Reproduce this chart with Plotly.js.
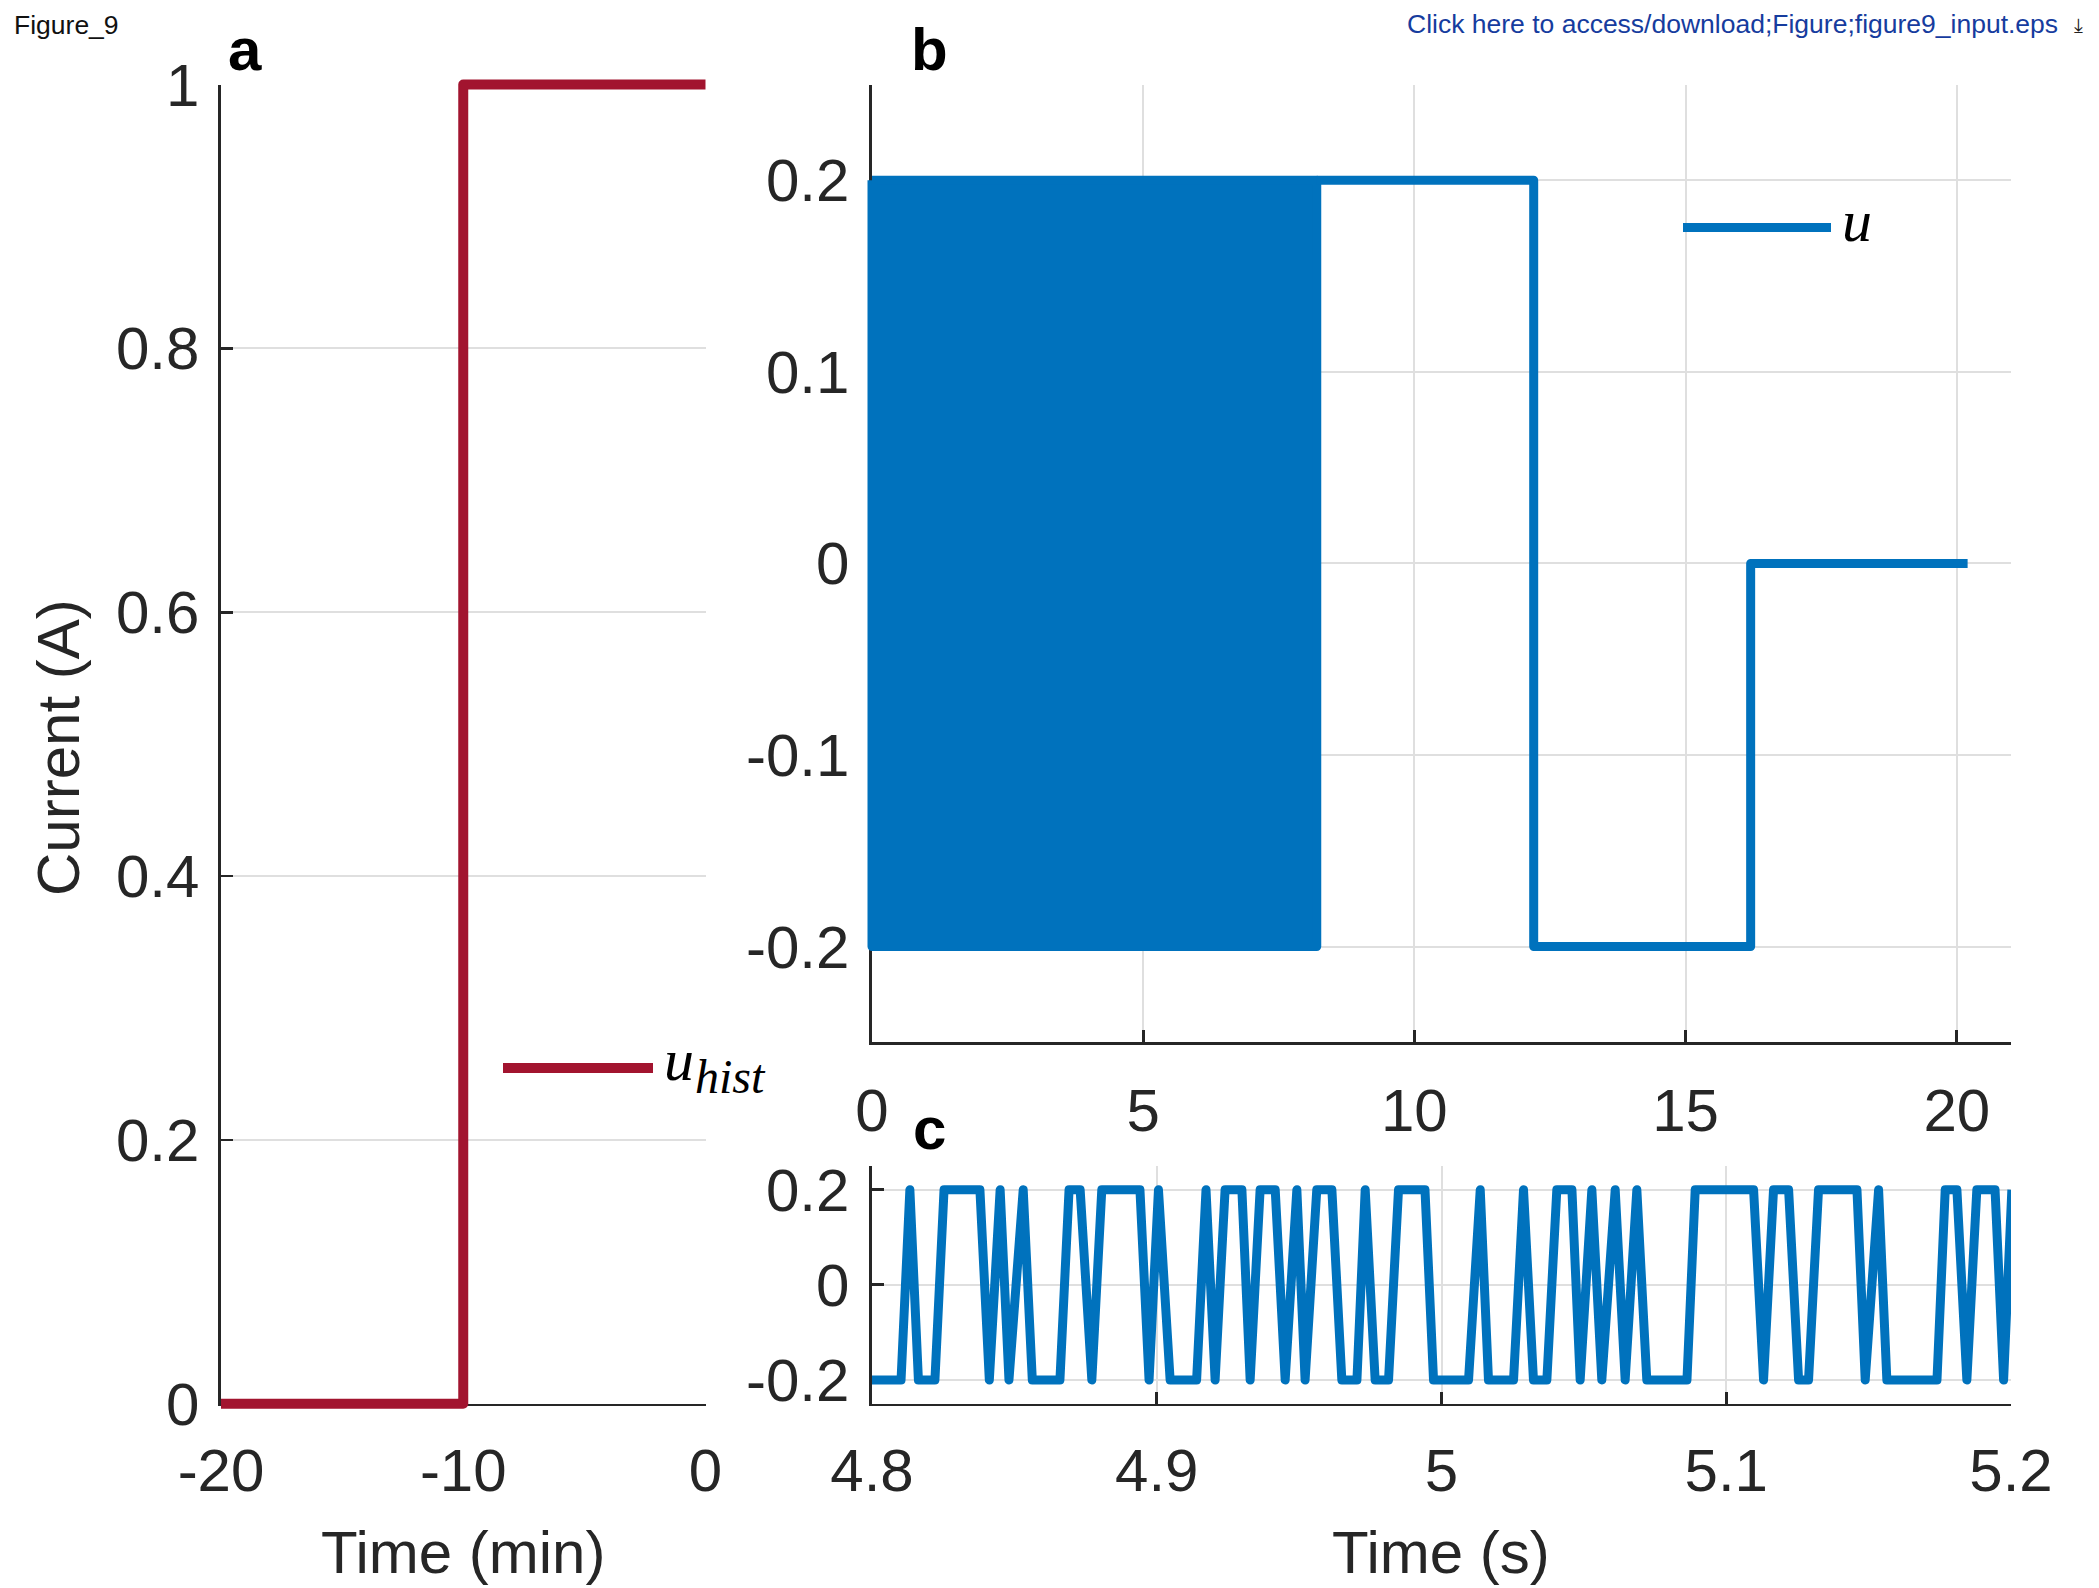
<!DOCTYPE html>
<html>
<head>
<meta charset="utf-8">
<script src="https://cdn.plot.ly/plotly-3.0.1.min.js"></script>
<style>
  html, body { margin: 0; padding: 0; background: #ffffff; }
  #chart { width: 2099px; height: 1588px; }
  .scatterlayer path.js-line { stroke-linejoin: round; }
</style>
</head>
<body>
<div id="chart"></div>
<script>
// ---------------- data ----------------
// panel a: input history (time in min, current in A)
const histTime = [-20, -10, -10, 0];
const histCurrent = [0, 0, 1, 1];

// panel b: fast PRBS section (drawn as its switching envelope), then steps
const prbsBlockTime = [0, 8.2];
const prbsBlockLevel = [-0.2, 0.2];
const stepTime = [8.2, 12.2, 12.2, 16.2, 16.2, 20.2];
const stepCurrent = [0.2, 0.2, -0.2, -0.2, 0, 0];

// panel c: zoom of the PRBS, 4.8 s to 5.2 s
const zoomTime = [
  4.8000, 4.8102, 4.8133, 4.8163, 4.8221, 4.8253, 4.8379, 4.8412, 4.8450, 4.8481,
  4.8531, 4.8563, 4.8660, 4.8692, 4.8731, 4.8772, 4.8807, 4.8941, 4.8973, 4.9006,
  4.9047, 4.9140, 4.9173, 4.9205, 4.9240, 4.9299, 4.9328, 4.9363, 4.9416, 4.9451,
  4.9492, 4.9521, 4.9562, 4.9615, 4.9650, 4.9703, 4.9732, 4.9767, 4.9814, 4.9849,
  4.9942, 4.9972, 5.0095, 5.0136, 5.0165, 5.0253, 5.0288, 5.0323, 5.0370, 5.0405,
  5.0458, 5.0487, 5.0528, 5.0563, 5.0610, 5.0645, 5.0686, 5.0721, 5.0862, 5.0891,
  5.1096, 5.1131, 5.1166, 5.1219, 5.1254, 5.1289, 5.1324, 5.1459, 5.1488, 5.1535,
  5.1564, 5.1740, 5.1769, 5.1810, 5.1845, 5.1880, 5.1944, 5.1974, 5.2003
];
const zoomCurrent = [
  -0.2, -0.2, 0.2, -0.2, -0.2, 0.2, 0.2, -0.2, 0.2, -0.2,
   0.2, -0.2, -0.2, 0.2, 0.2, -0.2, 0.2, 0.2, -0.2, 0.2,
  -0.2, -0.2, 0.2, -0.2, 0.2, 0.2, -0.2, 0.2, 0.2, -0.2,
   0.2, -0.2, 0.2, 0.2, -0.2, -0.2, 0.2, -0.2, -0.2, 0.2,
   0.2, -0.2, -0.2, 0.2, -0.2, -0.2, 0.2, -0.2, -0.2, 0.2,
   0.2, -0.2, 0.2, -0.2, 0.2, -0.2, 0.2, -0.2, -0.2, 0.2,
   0.2, -0.2, 0.2, 0.2, -0.2, -0.2, 0.2, 0.2, -0.2, 0.2,
  -0.2, -0.2, 0.2, 0.2, -0.2, 0.2, 0.2, -0.2, 0.2
];

// ticks
const aTickX = [-20, -10, 0];
const aTickXText = ['-20', '-10', '0'];
const aTickY = [0, 0.2, 0.4, 0.6, 0.8, 1];
const aTickYText = ['0', '0.2', '0.4', '0.6', '0.8', '1'];
const bTickX = [0, 5, 10, 15, 20];
const bTickXText = ['0', '5', '10', '15', '20'];
const bTickY = [-0.2, -0.1, 0, 0.1, 0.2];
const bTickYText = ['-0.2', '-0.1', '0', '0.1', '0.2'];
const cTickX = [4.8, 4.9, 5.0, 5.1, 5.2];
const cTickXText = ['4.8', '4.9', '5', '5.1', '5.2'];
const cTickY = [-0.2, 0, 0.2];
const cTickYText = ['-0.2', '0', '0.2'];

// axis ranges
const aRangeX = [-20, 0], aRangeY = [0, 1];
const bRangeX = [0, 21], bRangeY = [-0.25, 0.25];
const cRangeX = [4.8, 5.2], cRangeY = [-0.25, 0.25];

// ---------------- styling ----------------
const W = 2099, H = 1588;
const px = v => v / W;
const py = v => 1 - v / H;
const RED = '#A2142F';
const BLUE = '#0072BD';
const AX = '#262626';
const GRID = '#DFDFDF';
const SANS = 'Liberation Sans, Arial, Helvetica, sans-serif';
const SERIF = 'Liberation Serif, Times New Roman, serif';

function axis(extra) {
  return Object.assign({
    showline: true, linecolor: AX, linewidth: 2.7,
    ticks: 'inside', ticklen: 12, tickwidth: 2.7, tickcolor: AX,
    showgrid: true, gridcolor: GRID, gridwidth: 2,
    zeroline: false, tickmode: 'array', fixedrange: true,
    layer: 'below traces',
    tickfont: { family: SANS, size: 60, color: AX }
  }, extra);
}

// pixel boxes of the panels
const A = { l: 221, r: 705.5, t: 84.5, b: 1403.7 };
const B = { l: 872, r: 2011, t: 84.5, b: 1042.4 };
const C = { l: 872, r: 2011, t: 1166, b: 1403.7 };

// hidden companion axes, a few pixels larger than a panel but with the same
// value-to-pixel mapping, so that thick lines can straddle the axis lines
const PAD = 12;
function hiddenPair(box, rx, ry, anchorX, anchorY) {
  const kx = (box.r - box.l) / (rx[1] - rx[0]);
  const ky = (box.b - box.t) / (ry[1] - ry[0]);
  const hidden = { showline: false, showgrid: false, zeroline: false, showticklabels: false,
                   ticks: '', fixedrange: true };
  return [
    Object.assign({}, hidden, { domain: [px(box.l - PAD), px(box.r + PAD)],
      range: [rx[0] - PAD / kx, rx[1] + PAD / kx], anchor: anchorY }),
    Object.assign({}, hidden, { domain: [py(box.b + PAD), py(box.t - PAD)],
      range: [ry[0] - PAD / ky, ry[1] + PAD / ky], anchor: anchorX })
  ];
}
const [xA2, yA2] = hiddenPair(A, aRangeX, aRangeY, 'x4', 'y4');
const [xB2, yB2] = hiddenPair(B, bRangeX, bRangeY, 'x5', 'y5');

const traces = [
  // empty traces so that the visible axes of panels a and b are drawn
  { x: [], y: [], xaxis: 'x', yaxis: 'y', mode: 'lines', hoverinfo: 'skip' },
  { x: [], y: [], xaxis: 'x2', yaxis: 'y2', mode: 'lines', hoverinfo: 'skip' },
  { x: histTime, y: histCurrent, xaxis: 'x4', yaxis: 'y4', mode: 'lines',
    line: { color: RED, width: 10 }, hoverinfo: 'skip' },
  { x: [prbsBlockTime[0], prbsBlockTime[1], prbsBlockTime[1], prbsBlockTime[0], prbsBlockTime[0]],
    y: [prbsBlockLevel[1], prbsBlockLevel[1], prbsBlockLevel[0], prbsBlockLevel[0], prbsBlockLevel[1]],
    xaxis: 'x5', yaxis: 'y5', mode: 'lines', fill: 'toself', fillcolor: BLUE,
    line: { color: BLUE, width: 9 }, hoverinfo: 'skip' },
  { x: stepTime, y: stepCurrent, xaxis: 'x5', yaxis: 'y5', mode: 'lines',
    line: { color: BLUE, width: 9 }, hoverinfo: 'skip' },
  { x: zoomTime, y: zoomCurrent, xaxis: 'x3', yaxis: 'y3', mode: 'lines',
    line: { color: BLUE, width: 9 }, hoverinfo: 'skip' }
];

const annotations = [
  { text: 'Figure_9', x: px(12), y: py(24.5), xanchor: 'left', yanchor: 'middle',
    font: { family: SANS, size: 26.5, color: '#111111' } },
  { text: 'Click here to access/download;Figure;figure9_input.eps', x: px(2060), y: py(24),
    xanchor: 'right', yanchor: 'middle', font: { family: SANS, size: 26.5, color: '#163C9E' } },
  { text: '⤓', x: px(2078), y: py(25), xanchor: 'center', yanchor: 'middle',
    font: { family: 'DejaVu Sans, sans-serif', size: 20, color: '#222222' } },
  { text: '<b>a</b>', x: px(245), y: py(49), xanchor: 'center', yanchor: 'middle',
    font: { family: SANS, size: 60, color: '#000000' } },
  { text: '<b>b</b>', x: px(929), y: py(49), xanchor: 'center', yanchor: 'middle',
    font: { family: SANS, size: 60, color: '#000000' } },
  { text: '<b>c</b>', x: px(929), y: py(1128), xanchor: 'center', yanchor: 'middle',
    font: { family: SANS, size: 60, color: '#000000' } },
  { text: 'Time (min)', x: px(463), y: py(1552), xanchor: 'center', yanchor: 'middle',
    font: { family: SANS, size: 60, color: AX } },
  { text: 'Time (s)', x: px(1441), y: py(1552), xanchor: 'center', yanchor: 'middle',
    font: { family: SANS, size: 60, color: AX } },
  { text: 'Current (A)', x: px(58), y: py(748), xanchor: 'center', yanchor: 'middle', textangle: -90,
    font: { family: SANS, size: 60, color: AX } },
  // legend labels
  { text: '<i>u</i>', x: px(662), y: py(1060), xanchor: 'left', yanchor: 'middle',
    font: { family: SERIF, size: 60, color: '#000000' } },
  { text: '<i>hist</i>', x: px(693), y: py(1076), xanchor: 'left', yanchor: 'middle',
    font: { family: SERIF, size: 48, color: '#000000' } },
  { text: '<i>u</i>', x: px(1840), y: py(221), xanchor: 'left', yanchor: 'middle',
    font: { family: SERIF, size: 60, color: '#000000' } }
].map(a => Object.assign({ xref: 'paper', yref: 'paper', showarrow: false }, a));

const shapes = [
  { type: 'line', xref: 'paper', yref: 'paper', x0: px(503), x1: px(653), y0: py(1068), y1: py(1068),
    line: { color: RED, width: 10 } },
  { type: 'line', xref: 'paper', yref: 'paper', x0: px(1683), x1: px(1831), y0: py(227.6), y1: py(227.6),
    line: { color: BLUE, width: 9 } }
];

const layout = {
  width: W, height: H,
  margin: { l: 0, r: 0, t: 0, b: 0, pad: 0 },
  paper_bgcolor: '#ffffff', plot_bgcolor: 'rgba(0,0,0,0)',
  showlegend: false,
  xaxis: axis({ domain: [px(A.l), px(A.r)], range: aRangeX, anchor: 'y', tickvals: aTickX, ticktext: aTickXText, ticklabelstandoff: 13 }),
  yaxis: axis({ domain: [py(A.b), py(A.t)], range: aRangeY, anchor: 'x', tickvals: aTickY, ticktext: aTickYText, ticklabelstandoff: 7 }),
  xaxis2: axis({ domain: [px(B.l), px(B.r)], range: bRangeX, anchor: 'y2', tickvals: bTickX, ticktext: bTickXText, ticklabelstandoff: 14 }),
  yaxis2: axis({ domain: [py(B.b), py(B.t)], range: bRangeY, anchor: 'x2', tickvals: bTickY, ticktext: bTickYText, ticklabelstandoff: 8 }),
  xaxis3: axis({ domain: [px(C.l), px(C.r)], range: cRangeX, anchor: 'y3', tickvals: cTickX, ticktext: cTickXText, ticklabelstandoff: 13 }),
  yaxis3: axis({ domain: [py(C.b), py(C.t)], range: cRangeY, anchor: 'x3', tickvals: cTickY, ticktext: cTickYText, ticklabelstandoff: 8 }),
  xaxis4: xA2, yaxis4: yA2,
  xaxis5: xB2, yaxis5: yB2,
  annotations: annotations,
  shapes: shapes
};

Plotly.newPlot('chart', traces, layout, { staticPlot: true, displayModeBar: false });
</script>
</body>
</html>
